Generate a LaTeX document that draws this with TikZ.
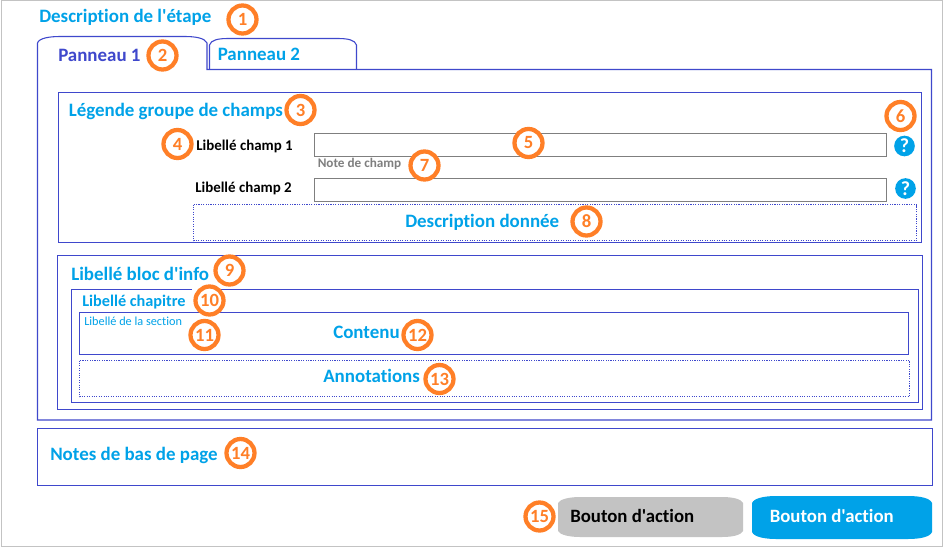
\documentclass[tikz,border=0pt]{standalone}
\usepackage{fontspec}
\setmainfont{Carlito}
\newfontfamily\calib{Carlito}[Ligatures=NoCommon]
\newcommand{\corps}[1]{\calib\fontsize{#1}{#1}\selectfont\bfseries}
\definecolor{cadre}{HTML}{3F48CC}
\definecolor{titre}{HTML}{00A2E8}
\definecolor{pastille}{HTML}{FF7F27}
\definecolor{bord}{HTML}{C3C3C3}
\definecolor{champ}{HTML}{7F7F7F}
\tikzset{
  boite/.style={draw=cadre,line width=.8pt},
  pointille/.style={draw=cadre,line width=.8pt,densely dotted},
  saisie/.style={draw=champ,line width=.9pt},
  % textes
  txt/.style={anchor=base west,inner sep=0pt,font=\corps{#1},text=titre},
  lib/.style={anchor=base west,inner sep=0pt,font=\corps{11.2},text=black},
  num/.style={draw=pastille,fill=white,circle,line width=3.2pt,minimum size=21pt,inner sep=0pt,
    text=pastille,font=\corps{14}},
  aide/.style={fill=titre,circle,minimum size=15.5pt,inner sep=0pt,text=white,
    font=\corps{15}},
}
\begin{document}
\begin{tikzpicture}[x=.75pt,y=-.75pt]
\useasboundingbox (0,0) rectangle (946,550);
\fill[white] (0,0) rectangle (946,550);
\draw[bord,line width=1pt] (1.5,-2) -- (1.5,546.5) -- (942.5,546.5) -- (942.5,-2);
\draw[bord,line width=1pt] (1.5,.5) -- (942.5,.5);
% onglets et panneau
\draw[boite] (207,69.5) -- (207,43) .. controls (205,38) and (195,36.5) .. (185,36.5)
  -- (60,36.5) .. controls (50,36.5) and (39,38) .. (37.5,43) -- (37.5,420) -- (931.5,420) -- (931.5,69.5) -- cycle;
\draw[boite] (209.5,69.5) -- (209.5,45) .. controls (211,40) and (218,38.5) .. (228,38.5)
  -- (338,38.5) .. controls (348,38.5) and (355,40) .. (356.5,45) -- (356.5,69.5);
% groupe de champs
\draw[boite] (58.5,92.5) rectangle (921.5,242.5);
\draw[saisie] (314.5,133.5) rectangle (886.5,156.5);
\draw[saisie] (314.5,178.5) rectangle (886.5,201.5);
\draw[pointille] (193.5,204.5) rectangle (916.5,240.5);
% bloc d'info
\draw[boite] (57.5,255.5) rectangle (922.5,409.5);
\draw[boite] (192,289.5) -- (71.5,289.5) -- (71.5,402.5) -- (918.5,402.5) -- (918.5,289.5) -- (200,289.5);
\draw[boite] (79.5,312.5) rectangle (908.5,354.5);
\draw[pointille] (79.5,360.5) rectangle (909.5,396.5);
% notes
\draw[boite] (37.5,428.5) rectangle (932.5,485.5);
% boutons
\fill[bord] (558,503) .. controls (560,499) and (570,497) .. (580,497) -- (722,497)
  .. controls (733,497) and (741,499) .. (743,503) -- (743,531)
  .. controls (741,535) and (733,537) .. (722,537) -- (580,537)
  .. controls (570,537) and (560,535) .. (558,531) -- cycle;
\fill[titre] (752,503) .. controls (754,498) and (765,496) .. (776,496) -- (908,496)
  .. controls (920,496) and (930,498) .. (932,503) -- (932,532)
  .. controls (930,537) and (920,539) .. (908,539) -- (776,539)
  .. controls (765,539) and (754,537) .. (752,532) -- cycle;
\node at (39,22) [txt=14.2] (etape){Description de l'étape};
\node at (58,61) [txt=14.2,text=cadre] (pan1){Panneau 1};
\node at (217.5,60.5) [txt=14.2] (pan2){Panneau 2};
\node at (68.5,116.5) [txt=14.2] (legende){Légende groupe de champs};
\node at (196,150.5) [lib] (lib1){Libellé champ 1};
\node at (195,192.5) [lib] (lib2){Libellé champ 2};
\node at (317.5,167.5) [lib,text=champ,font=\corps{9.9}] (note){Note de champ};
\node at (405,227) [txt=14.2] (descr){Description donnée};
\node at (71,280) [txt=14.2] (bloc){Libellé bloc d'info};
\node at (82,306) [txt=12.2] (chap){Libellé chapitre};
\node at (84,325) [txt=9.2,font=\calib\fontsize{9.2}{9.2}\selectfont] (sect){Libellé de la section};
\node at (333,338.5) [txt=14.2] (contenu){Contenu};
\node at (323,382) [txt=14.2] (annot){Annotations};
\node at (50,460) [txt=14.2] (notes){Notes de bas de page};
\node at (570,522) [txt=14.1,text=black] (bt1){Bouton d'action};
\node at (769.5,522) [txt=14.1,text=white] (bt2){Bouton d'action};
\node at (904.5,146) [aide] (aide1){?};
\node at (905.5,188.5) [aide] (aide2){?};
\node at (242.5,19.5) [num] (n1){1};
\node at (162.5,55.5) [num] (n2){2};
\node at (300.5,110) [num] (n3){3};
\node at (177.5,144) [num] (n4){4};
\node at (528.5,143) [num] (n5){5};
\node at (900.5,116) [num] (n6){6};
\node at (424.5,165.5) [num] (n7){7};
\node at (586.5,221.5) [num] (n8){8};
\node at (229.5,270.5) [num] (n9){9};
\node at (209.5,300.5) [num] (n10){10};
\node at (204.5,335) [num] (n11){11};
\node at (417.5,335) [num] (n12){12};
\node at (439.5,379) [num] (n13){13};
\node at (240.5,453) [num] (n14){14};
\node at (539.5,516.5) [num] (n15){15};
\end{tikzpicture}
\end{document}
